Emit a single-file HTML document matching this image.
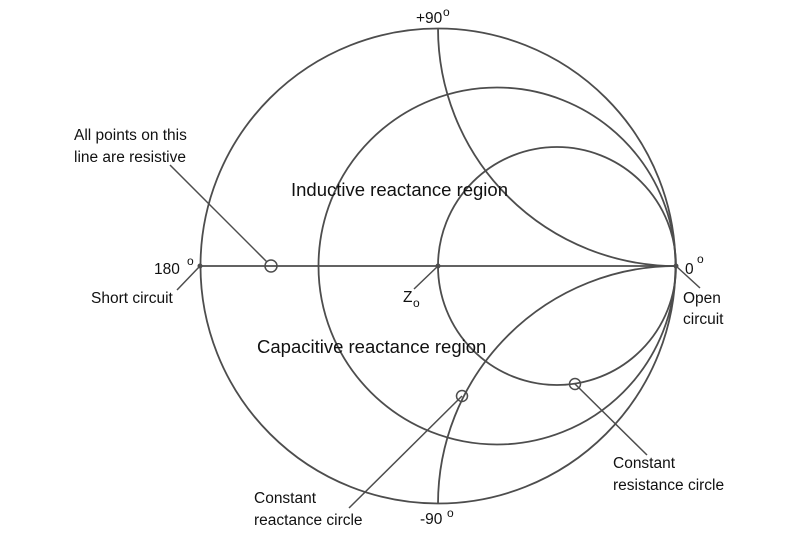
<!DOCTYPE html>
<html><head><meta charset="utf-8"><style>
html,body{margin:0;padding:0;background:#fff;}
svg{display:block;}
text{font-family:"Liberation Sans",Arial,sans-serif;fill:#111;}
.s{font-size:15.5px;}
.b{font-size:18.5px;}
.o{font-size:12px;}
</style></head><body>
<svg width="800" height="533" viewBox="0 0 800 533" xmlns="http://www.w3.org/2000/svg">
<g fill="none" stroke="#4d4d4d" stroke-width="1.8">
<circle cx="438" cy="266" r="237.5"/>
<circle cx="497" cy="266" r="178.5"/>
<circle cx="557" cy="266" r="119"/>
<path d="M438,28 A238,238 0 0 0 676,266"/>
<path d="M438,504 A238,238 0 0 1 676,266"/>
<line x1="200" y1="266" x2="676" y2="266"/>
</g>
<g fill="none" stroke="#4d4d4d" stroke-width="1.5">
<circle cx="271" cy="266" r="6"/>
<circle cx="462" cy="396" r="5.5"/>
<circle cx="575" cy="384" r="5.5"/>
<line x1="170" y1="165" x2="267" y2="262"/>
<line x1="200" y1="266" x2="177" y2="290"/>
<line x1="438" y1="266" x2="414" y2="289"/>
<line x1="676" y1="266" x2="700" y2="288"/>
<line x1="462" y1="396" x2="349" y2="508"/>
<line x1="575" y1="384" x2="647" y2="455"/>
</g>
<g fill="#4d4d4d">
<circle cx="200" cy="266" r="2.5"/>
<circle cx="438" cy="266" r="2.5"/>
<circle cx="676" cy="266" r="2.5"/>
</g>
<text class="s" x="416" y="23">+90</text><text class="o" x="443" y="16">o</text>
<text class="s" x="420" y="524">-90</text><text class="o" x="447" y="517">o</text>
<text class="s" x="154" y="274">180</text><text class="o" x="187" y="265">o</text>
<text class="s" x="685" y="274">0</text><text class="o" x="697" y="263">o</text>
<text class="s" x="74" y="140">All points on this</text>
<text class="s" x="74" y="162">line are resistive</text>
<text class="s" x="91" y="303">Short circuit</text>
<text class="s" x="683" y="303">Open</text>
<text class="s" x="683" y="324">circuit</text>
<text class="s" x="403" y="302">Z</text><text class="o" x="413" y="307">o</text>
<text class="b" x="291" y="196">Inductive reactance region</text>
<text class="b" x="257" y="353">Capacitive reactance region</text>
<text class="s" x="254" y="503">Constant</text>
<text class="s" x="254" y="525">reactance circle</text>
<text class="s" x="613" y="468">Constant</text>
<text class="s" x="613" y="490">resistance circle</text>
</svg>
</body></html>
